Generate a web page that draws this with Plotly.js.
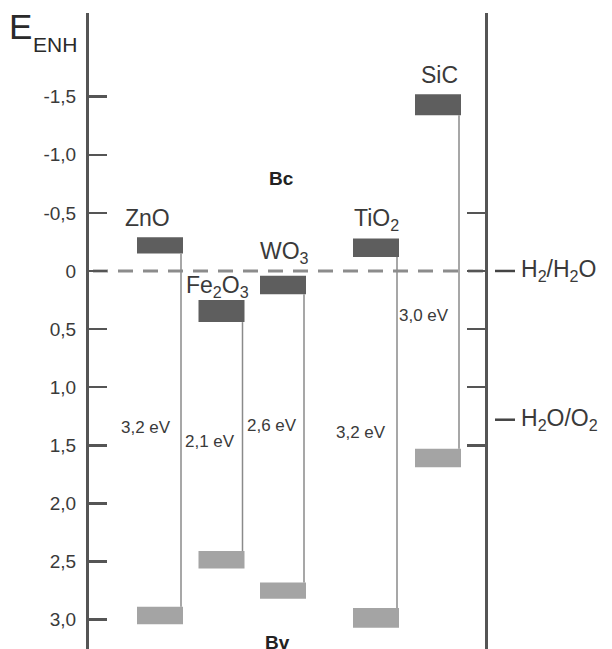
<!DOCTYPE html>
<html>
<head>
<meta charset="utf-8">
<script src="https://cdn.plot.ly/plotly-3.0.1.min.js"></script>
<style>html,body{margin:0;padding:0;background:#fff;}#chart{width:612px;height:649px;}</style>
</head>
<body>
<div id="chart"></div>
<script>
// ---- data ----
const materials = ['ZnO', 'Fe<sub>2</sub>O<sub>3</sub>', 'WO<sub>3</sub>', 'TiO<sub>2</sub>', 'SiC'];
const cbTop = [-0.29, 0.25, 0.04, -0.28, -1.52];
const cbBottom = [-0.15, 0.44, 0.20, -0.12, -1.34];
const vbTop = [2.89, 2.41, 2.68, 2.90, 1.53];
const vbBottom = [3.04, 2.56, 2.82, 3.07, 1.69];
const gapLabels = ['3,2 eV', '2,1 eV', '2,6 eV', '3,2 eV', '3,0 eV'];
const yTickVals = [-1.5, -1.0, -0.5, 0, 0.5, 1.0, 1.5, 2.0, 2.5, 3.0];
const yTickText = ['-1,5', '-1,0', '-0,5', '0', '0,5', '1,0', '1,5', '2,0', '2,5', '3,0'];
const rightTickVals = [-0.5, 0, 0.5, 1.0, 1.5];
const redoxNames = ['H<sub>2</sub>/H<sub>2</sub>O', 'H<sub>2</sub>O/O<sub>2</sub>'];
const redoxLevels = [0, 1.28];
const bandNames = ['Bc', 'Bv'];

// ---- layout positions (not data) ----
const xCenter = [160, 221.5, 283, 376, 438];
const barWidth = 46;
const lineOffset = 21;
const matLabelX = [147, 217, 284, 376, 439];
const matLabelY = [-0.46, 0.13, -0.16, -0.44, -1.69];
const gapLabelX = [146, 210, 272, 361, 424];
const gapLabelY = [1.35, 1.47, 1.33, 1.39, 0.38];
const bandLabelX = [281, 277];
const bandLabelY = [-0.80, 3.20];

const FONT = 'Liberation Sans, Arial, sans-serif';
const TXT = '#3a3a3a';
const AX = '#555555';

const traces = [];

// connecting lines between bands
const lx = [], ly = [];
for (let i = 0; i < materials.length; i++) {
  lx.push(xCenter[i] + lineOffset, xCenter[i] + lineOffset, null);
  ly.push(cbBottom[i], vbTop[i], null);
}
traces.push({type: 'scatter', mode: 'lines', x: lx, y: ly, line: {color: '#8a8a8a', width: 1.5}, hoverinfo: 'skip', showlegend: false});

// conduction band boxes
traces.push({
  type: 'bar', x: xCenter, base: cbTop, y: cbTop.map((t, i) => cbBottom[i] - t),
  width: barWidth, marker: {color: '#5e5e5e', line: {width: 0}}, showlegend: false, hoverinfo: 'skip'
});
// valence band boxes
traces.push({
  type: 'bar', x: xCenter, base: vbTop, y: vbTop.map((t, i) => vbBottom[i] - t),
  width: barWidth, marker: {color: '#a4a4a4', line: {width: 0}}, showlegend: false, hoverinfo: 'skip'
});

// dashed H2/H2O reference line
traces.push({type: 'scatter', mode: 'lines', x: [93, 486], y: [redoxLevels[0], redoxLevels[0]],
  line: {color: '#8c8c8c', width: 3, dash: '15px,10px'}, hoverinfo: 'skip', showlegend: false});

// short dashes before redox labels
redoxLevels.forEach(v => {
  traces.push({type: 'scatter', mode: 'lines', x: [495, 515], y: [v, v],
    line: {color: '#444', width: 2.5}, hoverinfo: 'skip', showlegend: false});
});

const annotations = [];
materials.forEach((m, i) => {
  annotations.push({x: matLabelX[i], y: matLabelY[i], xref: 'x', yref: 'y', text: m, showarrow: false,
    font: {family: FONT, size: 23, color: TXT}, xanchor: 'center', yanchor: 'middle'});
  annotations.push({x: gapLabelX[i], y: gapLabelY[i], xref: 'x', yref: 'y', text: gapLabels[i], showarrow: false,
    font: {family: FONT, size: 17, color: TXT}, xanchor: 'center', yanchor: 'middle'});
});
redoxNames.forEach((n, i) => {
  annotations.push({x: 519, y: redoxLevels[i], xref: 'x', yref: 'y', text: n, showarrow: false,
    font: {family: FONT, size: 23, color: TXT}, xanchor: 'left', yanchor: 'middle'});
});
bandNames.forEach((n, i) => {
  annotations.push({x: bandLabelX[i], y: bandLabelY[i], xref: 'x', yref: 'y', text: '<b>' + n + '</b>', showarrow: false,
    font: {family: FONT, size: 19, color: '#222'}, xanchor: 'center', yanchor: 'middle'});
});
// axis title E_ENH
annotations.push({x: -0.157, y: 1.012, xref: 'paper', yref: 'paper', text: 'E', showarrow: false,
  font: {family: FONT, size: 35, color: '#2a2a2a'}, xanchor: 'left', yanchor: 'top'});
annotations.push({x: -0.11, y: 0.972, xref: 'paper', yref: 'paper', text: 'ENH', showarrow: false,
  font: {family: FONT, size: 21, color: '#2a2a2a'}, xanchor: 'left', yanchor: 'top'});

const yRange = [3.253, -2.220];

const layout = {
  width: 612, height: 649,
  margin: {l: 89, r: 0, t: 13, b: 0, pad: 0},
  paper_bgcolor: '#fff', plot_bgcolor: '#fff',
  barmode: 'overlay',
  showlegend: false,
  xaxis: {range: [89, 612], visible: false, fixedrange: true},
  yaxis: {
    range: yRange, showline: true, linewidth: 3, linecolor: AX,
    ticks: 'inside', ticklen: 18, tickwidth: 2.5, tickcolor: AX,
    tickvals: yTickVals, ticktext: yTickText,
    tickfont: {family: FONT, size: 19, color: TXT},
    showgrid: false, zeroline: false, fixedrange: true, ticklabelstandoff: 6
  },
  yaxis2: {
    range: yRange, overlaying: 'y', side: 'right', anchor: 'free', position: (486 - 89) / 523,
    showline: true, linewidth: 3, linecolor: AX,
    ticks: 'inside', ticklen: 18, tickwidth: 2.5, tickcolor: AX,
    tickvals: rightTickVals, showticklabels: false,
    showgrid: false, zeroline: false, fixedrange: true
  },
  annotations: annotations
};

// dummy trace to activate yaxis2
traces.push({type: 'scatter', mode: 'lines', x: [null], y: [null], yaxis: 'y2', showlegend: false, hoverinfo: 'skip'});

Plotly.newPlot('chart', traces, layout, {staticPlot: true, displayModeBar: false});
</script>
</body>
</html>
